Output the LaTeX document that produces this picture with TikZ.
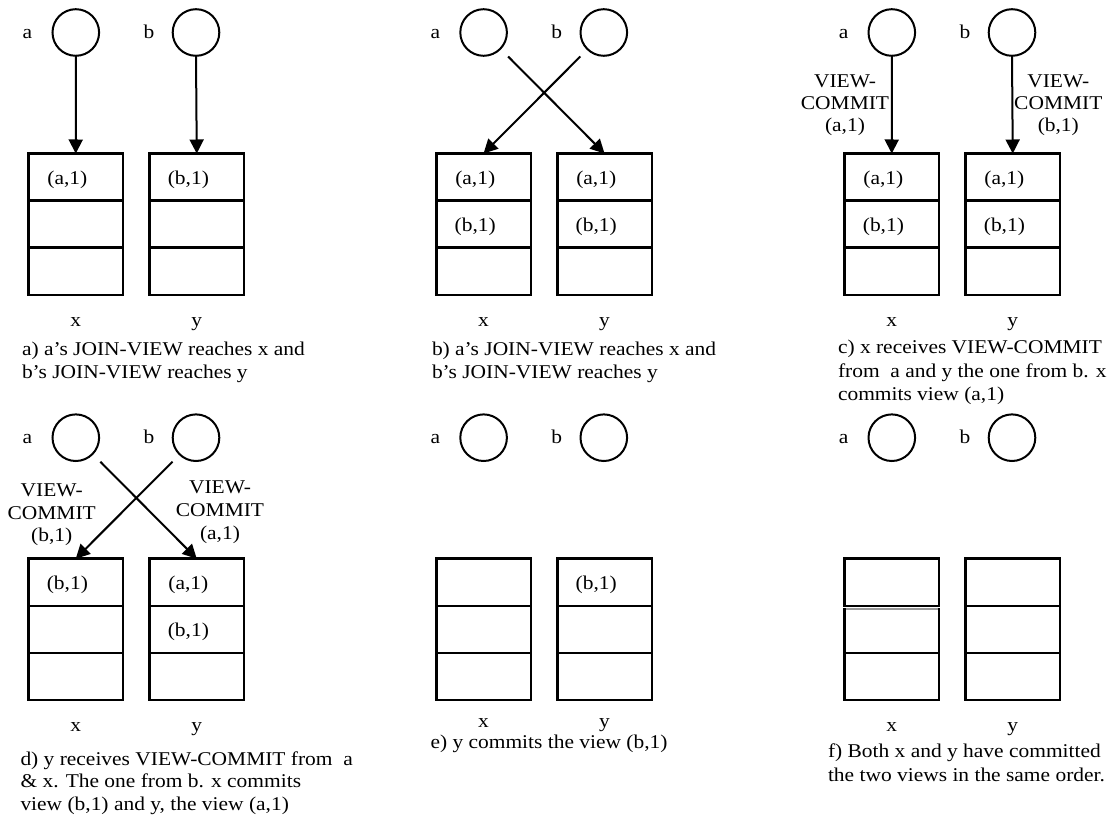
\documentclass[tikz,border=0pt]{standalone}
\usepackage{fontspec}
\setmainfont{Liberation Serif}[FakeStretch=1.1]
\usetikzlibrary{arrows.meta}

\tikzset{
  x=1pt, y=-1pt,
  every node/.style={font=\fontsize{19.5}{23.3}\selectfont, inner sep=0pt, outer sep=0pt},
  proc/.style={circle, draw, line width=2pt, minimum size=46.6pt},
  cell/.style={rectangle, draw, line width=2.6pt, minimum width=94.5pt, minimum height=47.1pt},
  msg/.style={line width=2pt, -{Triangle[width=14pt,length=14pt]}},
  txt/.style={anchor=base},
  capt/.style={anchor=base west},
}

% the two processes a and b with their names
\newcommand\procs[1]{%
  \node[proc] (#1a) at (75.8,32.5) {};
  \node[proc] (#1b) at (196,32.5) {};
  \node[txt] (#1na) at (27.5,38.3) {a};
  \node[txt] (#1nb) at (149,38.3) {b};
}
% a log of three stacked cells centred at x = #2
\newcommand\logstack[2]{%
  \node[cell] (#11) at (#2,177.05) {};
  \node[cell] (#12) at (#2,224.15) {};
  \node[cell] (#13) at (#2,271.25) {};
}
% the member names under the two logs, baseline at y = #2
\newcommand\members[2]{%
  \node[txt] (#1xl) at (75.75,#2) {x};
  \node[txt] (#1yl) at (196.75,#2) {y};
}

\begin{document}
\begin{tikzpicture}
\useasboundingbox (0,0) rectangle (1111,821);

% ---- a) ----
\begin{scope}[shift={(0,0)}]
  \procs{A}
  \logstack{Ax}{75.75}
  \logstack{Ay}{196.75}
  \members{A}{326}
  \node[txt] (Axt1) at (67.4,184.2) {(a,1)};
  \node[txt] (Ayt1) at (188.4,184.2) {(b,1)};
  \draw[msg] (Aa.south) -- (Ax1.north);
  \draw[msg] (Ab.south) -- (Ay1.north);
\end{scope}

% ---- b) ----
\begin{scope}[shift={(407.8,0)}]
  \procs{B}
  \logstack{Bx}{75.75}
  \logstack{By}{196.75}
  \members{B}{326}
  \node[txt] (Bxt1) at (67.4,184.2) {(a,1)};
  \node[txt] (Bxt2) at (67.4,231.3) {(b,1)};
  \node[txt] (Byt1) at (188.4,184.2) {(a,1)};
  \node[txt] (Byt2) at (188.4,231.3) {(b,1)};
  \coordinate (Bsa) at (100.3,56.5);
  \coordinate (Bsb) at (172.5,56.5);
  \draw[msg] (Bsa) -- (By1.north);
  \draw[msg] (Bsb) -- (Bx1.north);
\end{scope}

% ---- c) ----
\begin{scope}[shift={(816,0)}]
  \procs{C}
  \logstack{Cx}{75.75}
  \logstack{Cy}{196.75}
  \members{C}{326}
  \node[txt] (Cxt1) at (67.4,184.2) {(a,1)};
  \node[txt] (Cxt2) at (67.4,231.3) {(b,1)};
  \node[txt] (Cyt1) at (188.4,184.2) {(a,1)};
  \node[txt] (Cyt2) at (188.4,231.3) {(b,1)};
  \draw[msg] (Ca.south) -- (Cx1.north);
  \draw[msg] (Cb.south) -- (Cy1.north);
  \node[txt] (Cm1) at (29,87.3) {VIEW-};
  \node[txt] (Cm2) at (29,109.5) {COMMIT};
  \node[txt] (Cm3) at (29,131.7) {(a,1)};
  \node[txt] (Cn1) at (242.3,87.3) {VIEW-};
  \node[txt] (Cn2) at (242.3,109.5) {COMMIT};
  \node[txt] (Cn3) at (242.3,131.7) {(b,1)};
\end{scope}

% ---- d) ----
\begin{scope}[shift={(0,405.2)}]
  \procs{D}
  \logstack{Dx}{75.75}
  \logstack{Dy}{196.75}
  \members{D}{326}
  \node[txt] (Dxt1) at (67.4,184.2) {(b,1)};
  \node[txt] (Dyt1) at (188.4,184.2) {(a,1)};
  \node[txt] (Dyt2) at (188.4,231.3) {(b,1)};
  \coordinate (Dsa) at (100.3,56.5);
  \coordinate (Dsb) at (172.5,56.5);
  \draw[msg] (Dsa) -- (Dy1.north);
  \draw[msg] (Dsb) -- (Dx1.north);
  \node[txt] (Dm1) at (51.7,91.7) {VIEW-};
  \node[txt] (Dm2) at (51.7,114) {COMMIT};
  \node[txt] (Dm3) at (51.7,136.5) {(b,1)};
  \node[txt] (Dn1) at (220,88.5) {VIEW-};
  \node[txt] (Dn2) at (220,111) {COMMIT};
  \node[txt] (Dn3) at (220,134) {(a,1)};
\end{scope}

% ---- e) ----
\begin{scope}[shift={(407.8,405.2)}]
  \procs{E}
  \logstack{Ex}{75.75}
  \logstack{Ey}{196.75}
  \members{E}{322.5}
  \node[txt] (Eyt1) at (188.4,184.2) {(b,1)};
\end{scope}

% ---- f) ----
\begin{scope}[shift={(816,405.2)}]
  \procs{F}
  \node[cell] (Fx1) at (75.75,177.05) {};
  \node[cell, minimum height=43.7pt] (Fx2) at (75.75,225.85) {};
  \node[cell] (Fx3) at (75.75,271.25) {};
  \draw[white, line width=3pt, shorten <=1.4pt, shorten >=1.4pt] (Fx2.north west) -- (Fx2.north east);
  \draw[gray!80, line width=1.6pt, shorten <=1.4pt, shorten >=1.4pt] (Fx2.north west) -- (Fx2.north east);
  \logstack{Fy}{196.75}
  \members{F}{326}
\end{scope}

% ---- captions ----
\node[capt] (capA1) at (22,355) {a) a’s JOIN-VIEW reaches x and};
\node[capt] (capA2) at (22,378.3) {b’s JOIN-VIEW reaches y};
\node[capt] (capB1) at (432,355) {b) a’s JOIN-VIEW reaches x and};
\node[capt] (capB2) at (432,378.3) {b’s JOIN-VIEW reaches y};
\node[capt] (capC1) at (838,353.5) {c) x receives VIEW-COMMIT};
\node[capt] (capC2) at (838,377) {from\ \ a and y the one from b. x};
\node[capt] (capC3) at (838,400.5) {commits view (a,1)};
\node[capt] (capD1) at (20.5,765) {d) y receives VIEW-COMMIT from\ \ a};
\node[capt] (capD2) at (20.5,787.5) {\& x. The one from b. x commits};
\node[capt] (capD3) at (20.5,810) {view (b,1) and y, the view (a,1)};
\node[capt] (capE1) at (430.5,748) {e) y commits the view (b,1)};
\node[capt] (capF1) at (828,757.3) {f) Both x and y have committed};
\node[capt] (capF2) at (828,781.5) {the two views in the same order.};
\end{tikzpicture}
\end{document}
